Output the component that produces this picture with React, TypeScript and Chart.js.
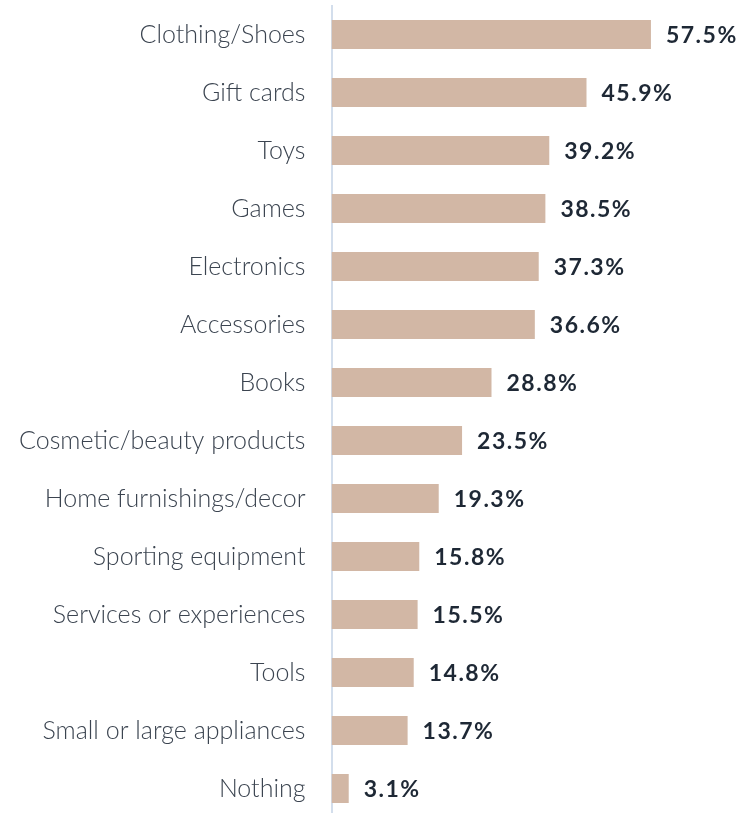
import React, { useEffect, useRef } from "react";
import { Chart, registerables } from "chart.js";

Chart.register(...registerables);

const categories = [
  "Clothing/Shoes",
  "Gift cards",
  "Toys",
  "Games",
  "Electronics",
  "Accessories",
  "Books",
  "Cosmetic/beauty products",
  "Home furnishings/decor",
  "Sporting equipment",
  "Services or experiences",
  "Tools",
  "Small or large appliances",
  "Nothing",
];

const values = [57.5, 45.9, 39.2, 38.5, 37.3, 36.6, 28.8, 23.5, 19.3, 15.8, 15.5, 14.8, 13.7, 3.1];

const BAR_COLOR = "#D2B7A5";
const AXIS_COLOR = "#D3DEEC";
const LABEL_COLOR = "#3B4450";
const VALUE_COLOR = "#1E2835";
const FONT = "Lato, 'Noto Sans', sans-serif";

const valueLabels = {
  id: "valueLabels",
  afterDatasetsDraw(chart: any) {
    const ctx = chart.ctx;
    const meta = chart.getDatasetMeta(0);
    ctx.save();
    ctx.font = `bold 23px ${FONT}`;
    (ctx as any).letterSpacing = "1.5px";
    ctx.fillStyle = VALUE_COLOR;
    ctx.textAlign = "left";
    ctx.textBaseline = "middle";
    meta.data.forEach((bar: any, i: number) => {
      ctx.fillText(values[i].toFixed(1) + "%", bar.x + 15, bar.y + 1);
    });
    (ctx as any).letterSpacing = "0px";
    ctx.restore();
  },
};

export default function App() {
  const ref = useRef<HTMLCanvasElement | null>(null);

  useEffect(() => {
    document.body.style.margin = "0";
    document.body.style.overflow = "hidden";
    if (!ref.current) return;
    const chart = new Chart(ref.current, {
      type: "bar",
      data: {
        labels: categories,
        datasets: [
          {
            data: values,
            backgroundColor: BAR_COLOR,
            borderWidth: 0,
            categoryPercentage: 1,
            barPercentage: 0.5,
          },
        ],
      },
      options: {
        indexAxis: "y",
        animation: false,
        responsive: false,
        maintainAspectRatio: false,
        devicePixelRatio: 1,
        layout: { padding: { top: 5.5, bottom: 0.5, left: 0, right: 6.5 } },
        plugins: {
          legend: { display: false },
          tooltip: { enabled: false },
        },
        scales: {
          x: {
            display: false,
            min: 0,
            max: 72,
          },
          y: {
            afterFit: (scale: any) => {
              scale.width = 331.5;
              scale.paddingTop = 0;
              scale.paddingBottom = 0;
            },
            grid: { display: false, drawTicks: false },
            border: { display: true, color: AXIS_COLOR, width: 2 },
            ticks: {
              padding: 26,
              color: LABEL_COLOR,
              font: { family: FONT, size: 25, weight: "300" as any },
            },
          },
        },
      },
      plugins: [valueLabels],
    });
    return () => chart.destroy();
  }, []);

  return (
    <div style={{ position: "fixed", left: 0, top: 0, width: 738, height: 813, overflow: "hidden", background: "#fff" }}>
      <canvas ref={ref} width={738} height={818} style={{ display: "block", width: 738, height: 818 }} />
    </div>
  );
}
